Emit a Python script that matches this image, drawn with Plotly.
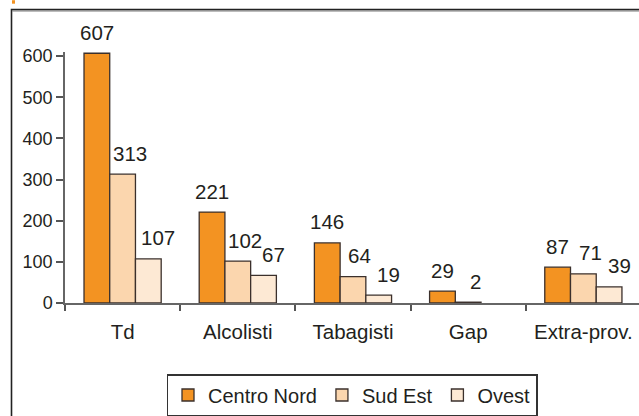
import plotly.graph_objects as go

categories = ["Td", "Alcolisti", "Tabagisti", "Gap", "Extra-prov."]
centro_nord = [607, 221, 146, 29, 87]
sud_est = [313, 102, 64, 2, 71]
ovest = [107, 67, 19, None, 39]
series_names = ["Centro Nord", "Sud Est", "Ovest"]
y_ticks = [0, 100, 200, 300, 400, 500, 600]

colors = ["#F39322", "#FBD6AE", "#FDE9D4"]
outline = "#3b302c"
text_color = "#231f20"
font_family = "Liberation Sans"
bargap = 0.33
label_xshift = [0, 7, 10]

fig = go.Figure()
all_series = [centro_nord, sud_est, ovest]
for name, vals, col in zip(series_names, all_series, colors):
    fig.add_trace(go.Bar(
        x=categories, y=vals, name=name,
        marker=dict(color=col, line=dict(color=outline, width=1.3)),
    ))

bw = (1 - bargap) / 3
annotations = []
for i, vals in enumerate(all_series):
    for j, v in enumerate(vals):
        if v is None:
            continue
        annotations.append(dict(
            x=j + (i - 1) * bw, y=v, xref="x", yref="y",
            text=str(v), showarrow=False, yanchor="middle",
            yshift=21, xshift=label_xshift[i],
            font=dict(size=20.5, color=text_color, family=font_family),
        ))

W, H = 639, 416
ml, mr, mt, mb = 65, 0, 52, 112
pw, ph = W - ml - mr, H - mt - mb

def px_x(p):
    return (p - ml) / pw

def px_y(p):
    return (H - mb - p) / ph

shapes = [
    dict(type="rect", xref="paper", yref="paper",
         x0=px_x(11.5), x1=px_x(700), y0=px_y(9.5), y1=px_y(470),
         line=dict(color="#222222", width=1.6), fillcolor="rgba(0,0,0,0)", layer="below"),
    dict(type="line", xref="paper", yref="paper",
         x0=px_x(12), x1=px_x(700), y0=px_y(11), y1=px_y(11),
         line=dict(color="#9a9a9a", width=1)),
    dict(type="rect", xref="paper", yref="paper",
         x0=px_x(12), x1=px_x(15), y0=px_y(0), y1=px_y(3.5),
         line=dict(width=0), fillcolor="#F39322"),
]

fig.update_layout(
    width=W, height=H,
    margin=dict(l=ml, r=mr, t=mt, b=mb, pad=0),
    paper_bgcolor="white", plot_bgcolor="white",
    barmode="group", bargap=bargap, bargroupgap=0,
    font=dict(family=font_family, color=text_color),
    showlegend=True,
    legend=dict(
        orientation="h", x=0.5, xanchor="center", y=px_y(375), yanchor="top",
        bordercolor="#333333", borderwidth=1.5, bgcolor="white",
        font=dict(size=20, color=text_color, family=font_family),
        itemwidth=30, tracegroupgap=0,
    ),
    xaxis=dict(
        type="category", range=[-0.5, 4.483],
        showline=True, linecolor="#666666", linewidth=1.5,
        ticks="outside", ticklen=6, tickcolor="#555555", tickwidth=1.5,
        tickson="boundaries", showgrid=False, zeroline=False,
        tickfont=dict(size=20.5, color=text_color), ticklabelstandoff=10,
    ),
    yaxis=dict(
        range=[0, 610], tickvals=y_ticks,
        showline=True, linecolor="#666666", linewidth=1.5,
        ticks="outside", ticklen=7, tickcolor="#555555", tickwidth=1.5,
        showgrid=False, zeroline=False,
        tickfont=dict(size=18, color=text_color),
    ),
    annotations=annotations,
    shapes=shapes,
)

fig.write_html(
    "out.html",
    config={"displayModeBar": False},
    post_script="document.body.style.margin='0px';document.body.style.overflow='hidden';",
)
